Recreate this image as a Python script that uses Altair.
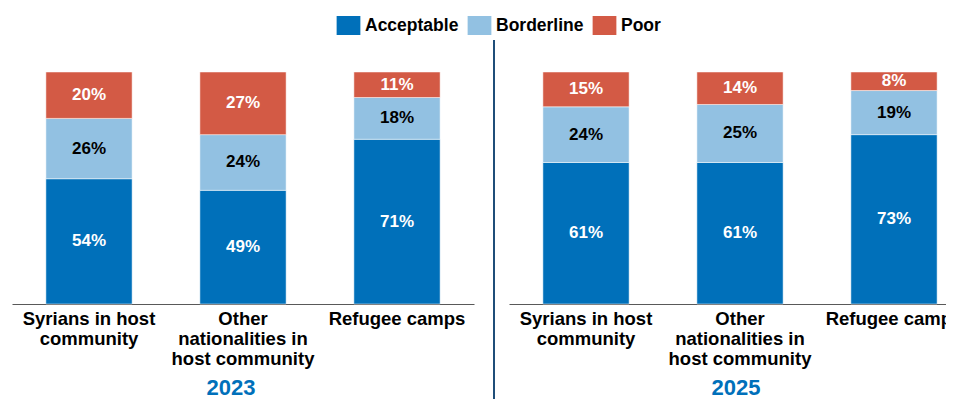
import altair as alt
import pandas as pd

categories = ["Syrians in host community", "Other nationalities in host community", "Refugee camps"]
levels = ["Acceptable", "Borderline", "Poor"]
colors = ["#0070BA", "#92C1E2", "#D35A45"]

acc_2023 = [54, 49, 71]
bor_2023 = [26, 24, 18]
poo_2023 = [20, 27, 11]
acc_2025 = [61, 61, 73]
bor_2025 = [24, 25, 19]
poo_2025 = [15, 14, 8]

def frame(acc, bor, poo):
    rows = []
    for i, c in enumerate(categories):
        for j, (lvl, vals) in enumerate(zip(levels, [acc, bor, poo])):
            rows.append({"cat": c, "level": lvl, "ord": j, "value": vals[i]})
    return pd.DataFrame(rows)

FONT = "Liberation Sans"
label_expr = ("datum.label == 'Syrians in host community' ? ['Syrians in host', 'community'] : "
              "datum.label == 'Other nationalities in host community' ? ['Other', 'nationalities in', 'host community'] : "
              "datum.label")

legend = alt.Legend(title=None, orient="none", direction="horizontal",
                    legendX=327, legendY=-56, labelFont=FONT, labelFontSize=17.5,
                    labelFontWeight="bold", labelColor="#000000",
                    symbolType="M-1.25,-1 L1.25,-1 L1.25,1 L-1.25,1 Z",
                    symbolSize=361, symbolOpacity=1, symbolStrokeWidth=0,
                    columnPadding=8, labelOffset=7)

def panel(df, year, year_x, divider=False):
    base = alt.Chart(df).transform_stack(
        stack="value", groupby=["cat"], as_=["y0", "y1"], sort=[alt.SortField("ord")]
    ).transform_calculate(mid="(datum.y0 + datum.y1) / 2", label="datum.value + '%'")
    x = alt.X("cat:N", sort=categories, title=None,
              scale=alt.Scale(paddingInner=0.44, paddingOuter=0.22),
              axis=alt.Axis(labelAngle=0, labelExpr=label_expr, labelFont=FONT,
                            labelFontSize=18.5, labelFontWeight="bold", labelColor="#000000",
                            labelPadding=5, labelLineHeight=20, ticks=False,
                            domainColor="#595959", domainWidth=1.2, labelLimit=300))
    color = alt.Color("level:N", sort=levels,
                      scale=alt.Scale(domain=levels, range=colors),
                      legend=legend)
    bars = base.mark_bar(stroke="#FFFFFF", strokeWidth=0.5).encode(
        x=x,
        y=alt.Y("y0:Q", scale=alt.Scale(domain=[0, 100]), axis=None),
        y2="y1:Q",
        color=color,
    )
    text = base.mark_text(font=FONT, fontSize=17, fontWeight="bold").encode(
        x=alt.X("cat:N", sort=categories),
        y=alt.Y("mid:Q"),
        text="label:N",
        color=alt.condition("datum.ord == 1", alt.value("#000000"), alt.value("#FFFFFF")),
    )
    year_lbl = alt.Chart(pd.DataFrame({"y": [year]})).mark_text(
        font=FONT, fontSize=22, fontWeight="bold", color="#0070BA", baseline="alphabetic"
    ).encode(x=alt.value(year_x), y=alt.value(323), text="y:N")
    layers = [bars, text, year_lbl]
    if divider:
        rule = alt.Chart(pd.DataFrame({"a": [0]})).mark_rule(color="#1F4E79", strokeWidth=2).encode(
            x=alt.value(-15), y=alt.value(-32), y2=alt.value(328))
        layers.append(rule)
    return alt.layer(*layers).properties(width=462, height=232)

left = panel(frame(acc_2023, bor_2023, poo_2023), "2023", 219)
right = panel(frame(acc_2025, bor_2025, poo_2025), "2025", 227, divider=True)

chart = alt.hconcat(left, right, spacing=19).configure_view(
    stroke=None).properties(padding={"left": 4, "top": 8, "right": -25, "bottom": -2})

chart.save("out.html", embed_options={"renderer": "svg", "actions": False})
